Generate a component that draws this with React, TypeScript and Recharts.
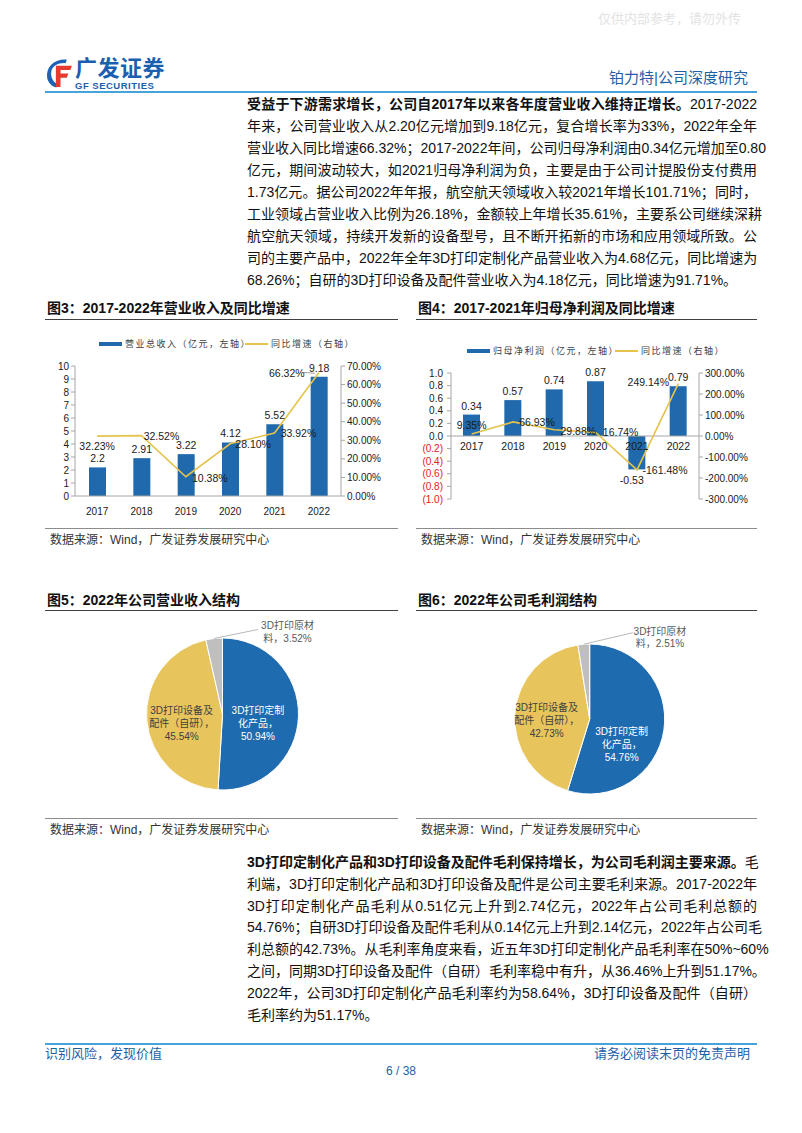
import React from 'react';
import {
  ComposedChart, Bar, Line, XAxis, YAxis, LabelList, ReferenceLine,
  PieChart, Pie, Cell,
} from 'recharts';

// ---------------- data ----------------
const years = ['2017', '2018', '2019', '2020', '2021', '2022'];
const revenue = [2.2, 2.91, 3.22, 4.12, 5.52, 9.18];
const revenueGrowth = [32.23, 32.52, 10.38, 28.1, 33.92, 66.32];
const netProfit = [0.34, 0.57, 0.74, 0.87, -0.53, 0.79];
const profitGrowth = [9.35, 66.93, 29.88, 16.74, -161.48, 249.14];

const revLeftTicks = [0, 1, 2, 3, 4, 5, 6, 7, 8, 9, 10];
const revRightTicks = [0, 10, 20, 30, 40, 50, 60, 70];
const npLeftTicks = [-1, -0.8, -0.6, -0.4, -0.2, 0, 0.2, 0.4, 0.6, 0.8, 1];
const npRightTicks = [-300, -200, -100, 0, 100, 200, 300];

const mixNames = ['3D打印定制化产品', '3D打印设备及配件（自研）', '3D打印原材料'];
const revenueMix = [50.94, 45.54, 3.52];
const grossMix = [54.76, 42.73, 2.51];
const mixLabelLines = [
  ['3D打印定制', '化产品，'],
  ['3D打印设备及', '配件（自研），'],
  ['3D打印原材', '料，'],
];

// ---------------- style ----------------
const FONT = '"Liberation Sans", "Noto Sans CJK SC", sans-serif';
const BLUE = '#1F69AC';
const PIE_BLUE = '#1F6BAF';
const YELLOW = '#E7C55C';
const LINE_YELLOW = '#E6C34D';
const GRAY = '#BFBFBF';
const AXIS = '#A6A6A6';
const TXT = '#1a1a1a';
const HEAD_BLUE = '#1F5FA5';
const RULE_BLUE = '#45A5DA';

// label offsets (style only)
const revGrowthOffsets = [[0, 10], [20, 0], [24, 1], [23, 0], [24, 0], [-32, 0]];
const npGrowthOffsets = [[0, -9], [24, 0], [24, 1], [25, 0], [28, 0], [-30, -2]];
const pie5Offsets = [[-2.5, 8.5], [-2.9, 6.5]];
const pie6Offsets = [[-5.1, 19.7], [-5.6, 4.3]];
const pie5Leader = { dx: 44, dy: -9, tx: 73.4 };
const pie6Leader = { dx: 49, dy: -11.5, tx: 76.2 };

const revData = years.map((y, i) => ({ year: y, revenue: revenue[i], growth: revenueGrowth[i] }));
const npData = years.map((y, i) => ({ year: y, profit: netProfit[i], growth: profitGrowth[i], zero: 0 }));
const revMixData = mixNames.map((n, i) => ({ name: n, value: revenueMix[i] }));
const grossMixData = mixNames.map((n, i) => ({ name: n, value: grossMix[i] }));
const pieColors = [PIE_BLUE, YELLOW, GRAY];

// ---------------- helpers ----------------
function geom(p: any) {
  const vb = p.viewBox || {};
  const x = typeof p.x === 'number' ? p.x : vb.x;
  const y = typeof p.y === 'number' ? p.y : vb.y;
  const w = typeof p.width === 'number' ? p.width : (vb.width || 0);
  const h = typeof p.height === 'number' ? p.height : (vb.height || 0);
  return { x, y, w, h };
}

const BarValueLabel = (p: any) => {
  const { x, y, w, h } = geom(p);
  if (x == null || y == null) return null;
  const v = Number(p.value);
  const top = Math.min(y, y + h);
  const bottom = Math.max(y, y + h);
  const cx = x + w / 2;
  const ty = v < 0 ? bottom + 11 : top - 9;
  return (
    <text x={v < 0 ? cx - 5 : cx} y={ty} textAnchor="middle" dominantBaseline="central"
      fontSize={10.5} fill={TXT} fontFamily={FONT}>{String(p.value)}</text>
  );
};

const makeGrowthLabel = (offsets: number[][], arr: number[], leaderIdx: number) => (p: any) => {
  const { x, y } = geom(p);
  if (x == null || y == null) return null;
  let idx = typeof p.index === 'number' ? p.index : arr.indexOf(Number(p.value));
  if (idx < 0) idx = 0;
  const [dx, dy] = offsets[idx] || [0, 0];
  const v = Number(p.value);
  return (
    <g>
      {idx === leaderIdx ? (
        <line x1={x - 16} y1={y - 0.5} x2={x - 4} y2={y + 0.5} stroke="#8c8c8c" strokeWidth={0.8} />
      ) : null}
      <text x={x + dx} y={y + dy} textAnchor="middle" dominantBaseline="central"
        fontSize={10.5} fill={TXT} fontFamily={FONT}>{v.toFixed(2) + '%'}</text>
    </g>
  );
};

const CategoryLabel = (p: any) => {
  const { x, y } = geom(p);
  if (x == null || y == null) return null;
  return (
    <text x={x} y={y + 10} textAnchor="middle" dominantBaseline="central"
      fontSize={10.5} fill={TXT} fontFamily={FONT}>{String(p.value)}</text>
  );
};

const NpLeftTick = (p: any) => {
  const v = Number(p.payload.value);
  const neg = v < -1e-9;
  return (
    <text x={p.x} y={p.y} dy={3.6} textAnchor="end" fontSize={10} fontFamily={FONT}
      fill={neg ? '#E02020' : TXT}>{neg ? `(${Math.abs(v).toFixed(1)})` : v.toFixed(1)}</text>
  );
};

const makePieLabel = (offsets: number[][], leader: { dx: number; dy: number; tx: number }) => (p: any) => {
  const RAD = Math.PI / 180;
  const { cx, cy, midAngle, outerRadius, index, value } = p;
  const lines = mixLabelLines[index];
  const pct = Number(value).toFixed(2) + '%';
  if (index === 2) {
    const ex = cx + outerRadius * Math.cos(-midAngle * RAD);
    const ey = cy + outerRadius * Math.sin(-midAngle * RAD);
    const lx = ex + leader.dx;
    const ly = ey + leader.dy;
    const tx = ex + leader.tx;
    return (
      <g>
        <line x1={ex} y1={ey} x2={lx} y2={ly} stroke="#A6A6A6" strokeWidth={0.8} />
        <text x={tx} y={ey - 12.5} textAnchor="middle" dominantBaseline="central" fontSize={10}
          fill="#595959" fontFamily={FONT}>{lines[0]}</text>
        <text x={tx} y={ey - 0.3} textAnchor="middle" dominantBaseline="central" fontSize={10}
          fill="#595959" fontFamily={FONT}>{lines[1] + pct}</text>
      </g>
    );
  }
  const r = outerRadius * 0.5;
  const bx = cx + r * Math.cos(-midAngle * RAD) + offsets[index][0];
  const by = cy + r * Math.sin(-midAngle * RAD) + offsets[index][1];
  const fill = index === 0 ? '#ffffff' : '#404040';
  const all = [lines[0], lines[1], pct];
  return (
    <g>
      {all.map((t, k) => (
        <text key={k} x={bx} y={by + (k - 1) * 13} textAnchor="middle" dominantBaseline="central"
          fontSize={10} fill={fill} fontFamily={FONT}>{t}</text>
      ))}
    </g>
  );
};

// ---------------- page text ----------------
type Seg = [string, boolean?];
const para1: Seg[][] = [
  [['受益于下游需求增长，公司自2017年以来各年度营业收入维持正增长。', true], ['2017-2022']],
  [['年来，公司营业收入从2.20亿元增加到9.18亿元，复合增长率为33%，2022年全年']],
  [['营业收入同比增速66.32%；2017-2022年间，公司归母净利润由0.34亿元增加至0.80']],
  [['亿元，期间波动较大，如2021归母净利润为负，主要是由于公司计提股份支付费用']],
  [['1.73亿元。据公司2022年年报，航空航天领域收入较2021年增长101.71%；同时，']],
  [['工业领域占营业收入比例为26.18%，金额较上年增长35.61%，主要系公司继续深耕']],
  [['航空航天领域，持续开发新的设备型号，且不断开拓新的市场和应用领域所致。公']],
  [['司的主要产品中，2022年全年3D打印定制化产品营业收入为4.68亿元，同比增速为']],
  [['68.26%；自研的3D打印设备及配件营业收入为4.18亿元，同比增速为91.71%。']],
];
const para2: Seg[][] = [
  [['3D打印定制化产品和3D打印设备及配件毛利保持增长，为公司毛利润主要来源。', true], ['毛']],
  [['利端，3D打印定制化产品和3D打印设备及配件是公司主要毛利来源。2017-2022年']],
  [['3D打印定制化产品毛利从0.51亿元上升到2.74亿元，2022年占公司毛利总额的']],
  [['54.76%；自研3D打印设备及配件毛利从0.14亿元上升到2.14亿元，2022年占公司毛']],
  [['利总额的42.73%。从毛利率角度来看，近五年3D打印定制化产品毛利率在50%~60%']],
  [['之间，同期3D打印设备及配件（自研）毛利率稳中有升，从36.46%上升到51.17%。']],
  [['2022年，公司3D打印定制化产品毛利率约为58.64%，3D打印设备及配件（自研）']],
  [['毛利率约为51.17%。']],
];

const Paragraph = ({ lines, top, lh }: { lines: Seg[][]; top: number; lh: number }) => (
  <>
    {lines.map((ln, i) => (
      <div key={i} style={{
        position: 'absolute', left: 247, top: top + i * lh, width: 510, height: 22,
        lineHeight: '22px', fontSize: 14, color: '#111', whiteSpace: 'nowrap',
        textAlign: 'justify', textAlignLast: i === lines.length - 1 ? 'left' : 'justify',
      } as React.CSSProperties}>
        {ln.map((s, k) => (
          <span key={k} style={{ fontWeight: s[1] ? 700 : 400 }}>{s[0]}</span>
        ))}
      </div>
    ))}
  </>
);

const abs = (left: number, top: number, extra: React.CSSProperties = {}): React.CSSProperties => ({
  position: 'absolute', left, top, ...extra,
});

const Title = ({ left, top, text }: { left: number; top: number; text: string }) => (
  <div style={abs(left, top, { fontSize: 14, fontWeight: 700, lineHeight: '18px', color: '#111', whiteSpace: 'nowrap' })}>{text}</div>
);
const HRule = ({ left, top, width, color, h = 1 }: { left: number; top: number; width: number; color: string; h?: number }) => (
  <div style={abs(left, top, { width, height: h, background: color })} />
);
const Source = ({ left, top }: { left: number; top: number }) => (
  <div style={abs(left, top, { fontSize: 12, lineHeight: '14px', color: '#333', whiteSpace: 'nowrap' })}>数据来源：Wind，广发证券发展研究中心</div>
);
const LegendItem = ({ left, top, kind, text }: { left: number; top: number; kind: 'bar' | 'line'; text: string }) => (
  <div style={abs(left, top - 7, { display: 'flex', alignItems: 'center', height: 14, whiteSpace: 'nowrap' })}>
    <div style={{ width: 23, height: kind === 'bar' ? 4 : 1.5, background: kind === 'bar' ? BLUE : LINE_YELLOW, marginRight: 3, flex: 'none' }} />
    <span style={{ fontSize: 9, letterSpacing: 1.5, color: '#404040', lineHeight: '14px' }}>{text}</span>
  </div>
);

const tickStyle = { fontSize: 10, fill: TXT, fontFamily: FONT };

export default function App() {
  return (
    <div style={{ position: 'absolute', left: 0, top: 0, width: 802, height: 1133, background: '#fff', overflow: 'hidden', fontFamily: FONT, color: '#111' }}>
      {/* watermark */}
      <div style={abs(598, 8, { fontSize: 13, color: '#e3e3e3', whiteSpace: 'nowrap' })}>仅供内部参考，请勿外传</div>

      {/* logo */}
      <svg style={abs(45, 57)} width={29} height={32} viewBox="0 0 28 30">
        <path d="M21 2 C9 1 1 9 2 19 C3 25 7 28 11 29 L12 25.5 C7.5 23.5 5.5 19 6 14 C7 8 13 5 20 5.5 Z" fill="#1D62B5" />
        <path d="M10.5 8 H26 L24.5 12 H15 V15.5 H22.5 L21 19.5 H15 V28.5 H10.5 Z" fill="#E63B2E" />
      </svg>
      <div style={abs(75, 56, { fontSize: 22, fontWeight: 700, color: '#1B5FB0', lineHeight: '26px', letterSpacing: 0.5, whiteSpace: 'nowrap' })}>广发证券</div>
      <div style={abs(75, 81, { fontSize: 9.5, fontWeight: 700, color: '#1B5FB0', lineHeight: '10px', letterSpacing: 0.5, whiteSpace: 'nowrap' })}>GF SECURITIES</div>
      <div style={abs(560, 69, { width: 188, textAlign: 'right', fontSize: 15, color: HEAD_BLUE, lineHeight: '18px', whiteSpace: 'nowrap' })}>铂力特|公司深度研究</div>
      <HRule left={45} top={91} width={712} color={RULE_BLUE} h={2} />

      <Paragraph lines={para1} top={93} lh={22} />

      {/* Figure 3 */}
      <Title left={47} top={299} text="图3：2017-2022年营业收入及同比增速" />
      <HRule left={45} top={319} width={353} color="#404040" />
      <LegendItem left={99} top={344} kind="bar" text="营业总收入（亿元，左轴）" />
      <LegendItem left={245} top={344} kind="line" text="同比增速（右轴）" />
      <div style={abs(40, 330)}>
        <ComposedChart width={360} height={200} data={revData} margin={{ top: 36, right: 11, bottom: 14, left: 3 }}>
          <XAxis dataKey="year" xAxisId="x" tickLine={false} axisLine={{ stroke: AXIS }} tick={tickStyle}
            height={20} tickMargin={6} interval={0} />
          <YAxis yAxisId="l" domain={[0, 10]} ticks={revLeftTicks} interval={0} width={32}
            axisLine={{ stroke: AXIS }} tickLine={{ stroke: AXIS }} tickSize={4} tickMargin={2} tick={tickStyle} />
          <YAxis yAxisId="r" orientation="right" domain={[0, 70]} ticks={revRightTicks} interval={0} width={48}
            axisLine={{ stroke: AXIS }} tickLine={{ stroke: AXIS }} tickSize={4} tickMargin={2} tick={tickStyle}
            tickFormatter={(v: number) => v.toFixed(2) + '%'} />
          <Bar xAxisId="x" yAxisId="l" dataKey="revenue" fill={BLUE} barSize={17} isAnimationActive={false}>
            <LabelList dataKey="revenue" content={BarValueLabel} />
          </Bar>
          <Line xAxisId="x" yAxisId="r" type="linear" dataKey="growth" stroke={LINE_YELLOW} strokeWidth={1.6}
            dot={false} activeDot={false} isAnimationActive={false}>
            <LabelList dataKey="growth" content={makeGrowthLabel(revGrowthOffsets, revenueGrowth, 5)} />
          </Line>
        </ComposedChart>
      </div>
      <HRule left={45} top={528} width={353} color="#8c8c8c" />
      <Source left={50} top={533} />

      {/* Figure 4 */}
      <Title left={418} top={299} text="图4：2017-2021年归母净利润及同比增速" />
      <HRule left={416} top={319} width={341} color="#404040" />
      <LegendItem left={467} top={351} kind="bar" text="归母净利润（亿元，左轴）" />
      <LegendItem left={615} top={351} kind="line" text="同比增速（右轴）" />
      <div style={abs(410, 330)}>
        <ComposedChart width={360} height={200} data={npData} margin={{ top: 43, right: 11, bottom: 31, left: 3 }}>
          <XAxis dataKey="year" xAxisId="x" hide />
          <YAxis yAxisId="l" domain={[-1, 1]} ticks={npLeftTicks} interval={0} width={38}
            axisLine={{ stroke: AXIS }} tickLine={{ stroke: AXIS }} tickSize={4} tickMargin={4} tick={<NpLeftTick />} />
          <YAxis yAxisId="r" orientation="right" domain={[-300, 300]} ticks={npRightTicks} interval={0} width={60}
            axisLine={{ stroke: AXIS }} tickLine={{ stroke: AXIS }} tickSize={4} tickMargin={2} tick={tickStyle}
            tickFormatter={(v: number) => v.toFixed(2) + '%'} />
          <ReferenceLine xAxisId="x" yAxisId="l" y={0} stroke={AXIS} />
          <Bar xAxisId="x" yAxisId="l" dataKey="profit" fill={BLUE} barSize={17} isAnimationActive={false}>
            <LabelList dataKey="profit" content={BarValueLabel} />
          </Bar>
          <Line xAxisId="x" yAxisId="l" dataKey="zero" stroke="none" dot={false} activeDot={false}
            isAnimationActive={false} legendType="none">
            <LabelList dataKey="year" content={CategoryLabel} />
          </Line>
          <Line xAxisId="x" yAxisId="r" type="linear" dataKey="growth" stroke={LINE_YELLOW} strokeWidth={1.6}
            dot={false} activeDot={false} isAnimationActive={false}>
            <LabelList dataKey="growth" content={makeGrowthLabel(npGrowthOffsets, profitGrowth, -1)} />
          </Line>
        </ComposedChart>
      </div>
      <HRule left={416} top={528} width={341} color="#8c8c8c" />
      <Source left={421} top={533} />

      {/* Figure 5 */}
      <Title left={47} top={591} text="图5：2022年公司营业收入结构" />
      <HRule left={45} top={610} width={353} color="#404040" />
      <div style={abs(40, 615)}>
        <PieChart width={360} height={195}>
          <Pie data={revMixData} dataKey="value" nameKey="name" cx={177.5} cy={94} outerRadius={76}
            startAngle={90} endAngle={-270} stroke="#ffffff" strokeWidth={1} isAnimationActive={false}
            labelLine={false} label={makePieLabel(pie5Offsets, pie5Leader)}>
            {revMixData.map((d, i) => <Cell key={d.name} fill={pieColors[i]} />)}
          </Pie>
        </PieChart>
      </div>
      <HRule left={45} top={818} width={353} color="#8c8c8c" />
      <Source left={50} top={823} />

      {/* Figure 6 */}
      <Title left={418} top={591} text="图6：2022年公司毛利润结构" />
      <HRule left={416} top={610} width={341} color="#404040" />
      <div style={abs(410, 615)}>
        <PieChart width={360} height={195}>
          <Pie data={grossMixData} dataKey="value" nameKey="name" cx={174.7} cy={99} outerRadius={75}
            startAngle={90} endAngle={-270} stroke="#ffffff" strokeWidth={1} isAnimationActive={false}
            labelLine={false} label={makePieLabel(pie6Offsets, pie6Leader)}>
            {grossMixData.map((d, i) => <Cell key={d.name} fill={pieColors[i]} />)}
          </Pie>
        </PieChart>
      </div>
      <HRule left={416} top={818} width={341} color="#8c8c8c" />
      <Source left={421} top={823} />

      <Paragraph lines={para2} top={851} lh={21.8} />

      {/* footer */}
      <HRule left={45} top={1043} width={712} color={RULE_BLUE} h={2} />
      <div style={abs(45, 1046, { fontSize: 13, color: HEAD_BLUE, lineHeight: '16px', whiteSpace: 'nowrap' })}>识别风险，发现价值</div>
      <div style={abs(557, 1046, { width: 193, textAlign: 'right', fontSize: 13, color: HEAD_BLUE, lineHeight: '16px', whiteSpace: 'nowrap' })}>请务必阅读末页的免责声明</div>
      <div style={abs(351, 1064, { width: 100, textAlign: 'center', fontSize: 12, color: HEAD_BLUE, lineHeight: '14px' })}>6 / 38</div>
    </div>
  );
}
